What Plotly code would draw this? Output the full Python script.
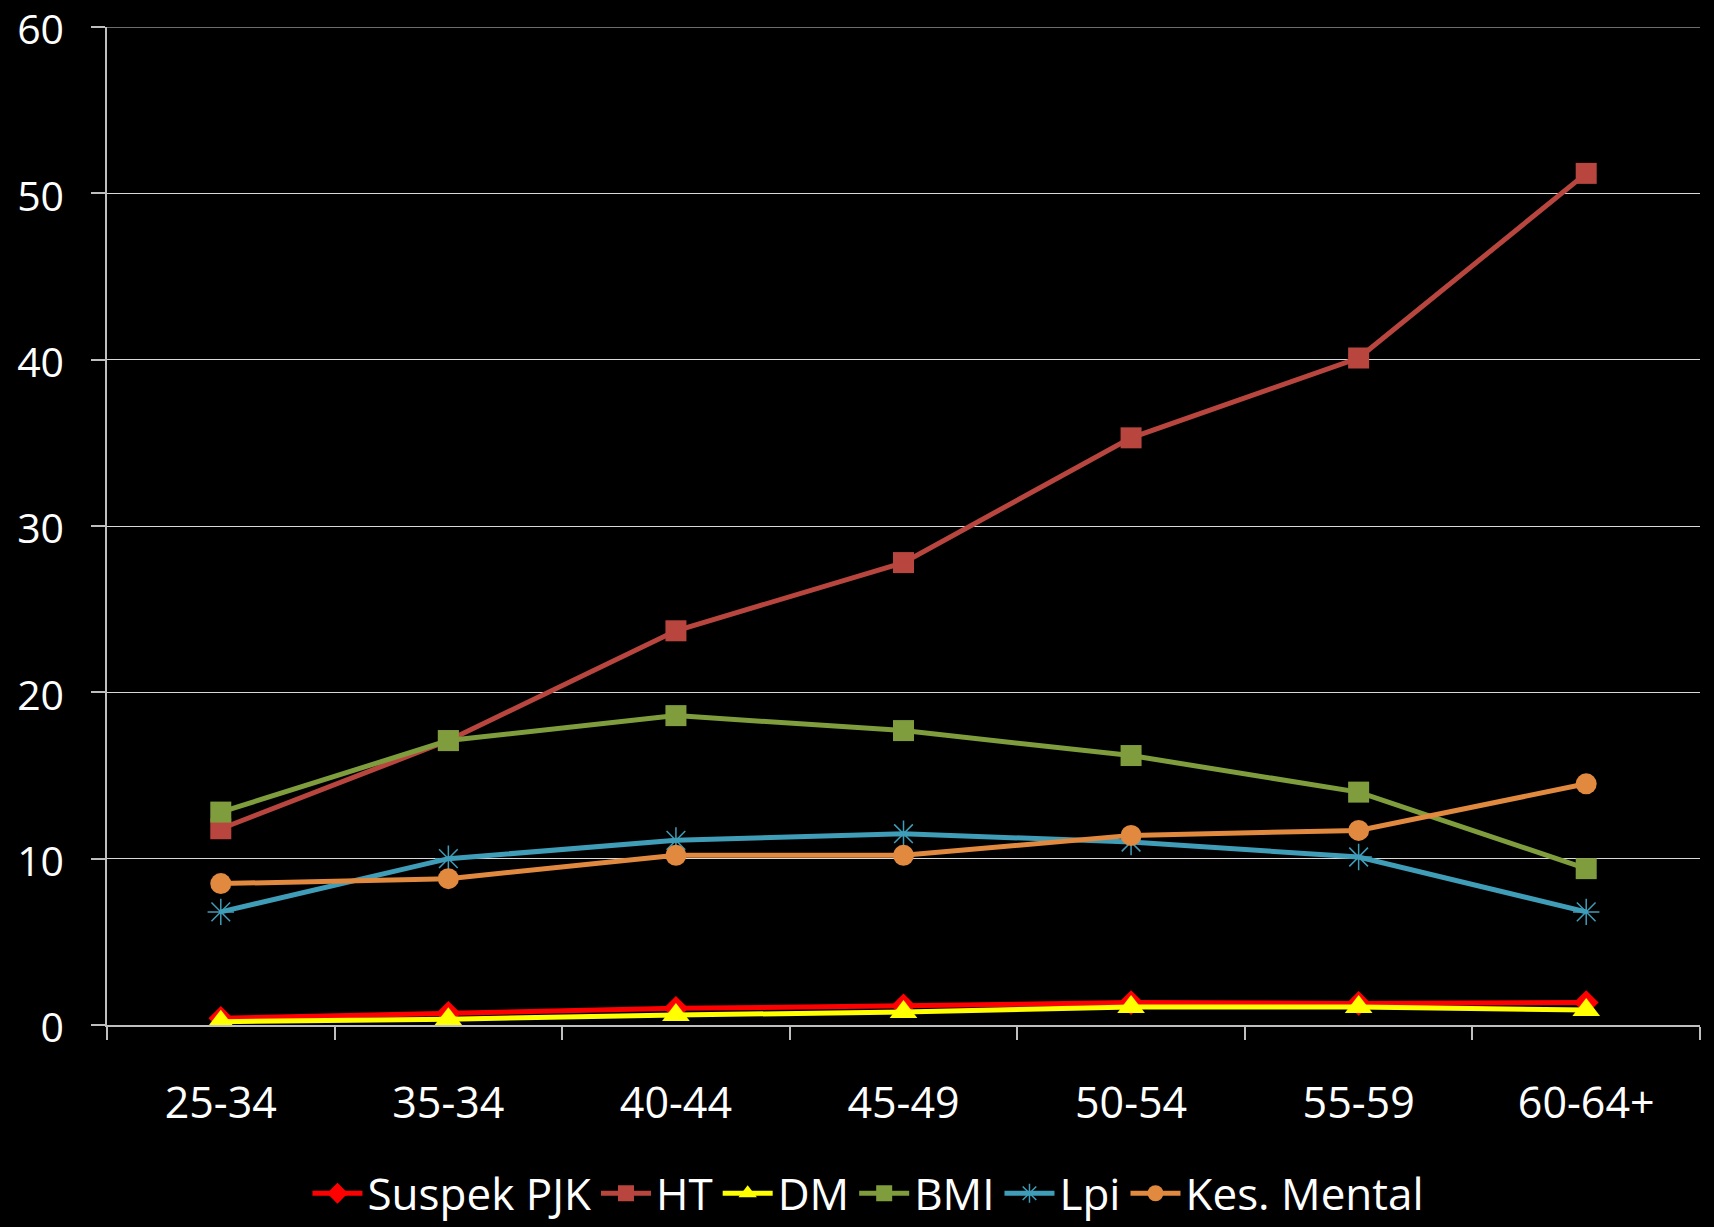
import plotly.graph_objects as go

categories = ["25-34", "35-34", "40-44", "45-49", "50-54", "55-59", "60-64+"]
suspek_pjk = [0.4, 0.7, 1.0, 1.15, 1.35, 1.3, 1.35]
ht = [11.8, 17.1, 23.7, 27.8, 35.3, 40.1, 51.2]
dm = [0.2, 0.35, 0.6, 0.78, 1.08, 1.08, 0.9]
bmi = [12.8, 17.1, 18.6, 17.7, 16.2, 14.0, 9.4]
lpi = [6.8, 10.0, 11.1, 11.5, 11.0, 10.1, 6.8]
kes_mental = [8.5, 8.8, 10.2, 10.2, 11.4, 11.7, 14.5]
y_ticks = [0, 10, 20, 30, 40, 50, 60]

FONT = "Open Sans"

fig = go.Figure()

def add(name, vals, color, symbol, msize, mline=None, mcolor=None):
    fig.add_trace(go.Scatter(
        x=categories, y=vals, name=name, mode="lines+markers",
        line=dict(color=color, width=5),
        marker=dict(symbol=symbol, size=msize, color=mcolor or color,
                    line=mline or dict(width=0)),
    ))

add("Suspek PJK", suspek_pjk, "#FF0000", "diamond", 19)
add("HT", ht, "#B8463F", "square", 21)
add("DM", dm, "#FFFF00", "triangle-up", 24)
add("BMI", bmi, "#7F9D3D", "square", 21)
add("Lpi", lpi, "#3F9DB8", "asterisk-open", 22, mline=dict(width=1.5, color="#2F8AA5"))
add("Kes. Mental", kes_mental, "#E0893F", "circle", 21)

# top gridline at 60 (plotly omits the grid line lying on the plot edge)
fig.add_shape(type="line", xref="paper", yref="y", x0=0, x1=1, y0=y_ticks[-1], y1=y_ticks[-1],
              line=dict(color="#D9D9D9", width=1.2), layer="below")

fig.update_layout(
    width=1714, height=1227,
    paper_bgcolor="black", plot_bgcolor="black",
    margin=dict(l=107, r=14, t=27, b=202, autoexpand=False),
    font=dict(family=FONT, color="white", size=42),
    showlegend=True,
    legend=dict(orientation="h", x=0.478, xanchor="center", y=-0.169, yanchor="middle",
                font=dict(size=44, color="white", family=FONT), bgcolor="rgba(0,0,0,0)",
                itemwidth=50, tracegroupgap=0),
    xaxis=dict(
        type="category", range=[-0.5, 6.5], tickson="boundaries",
        showline=True, linecolor="#BFBFBF", linewidth=1.5,
        ticks="outside", ticklen=13, tickcolor="#BFBFBF", tickwidth=1.5,
        showgrid=False, zeroline=False, automargin=False,
        tickfont=dict(size=43, color="white"), ticklabelstandoff=40,
    ),
    yaxis=dict(
        range=[0, 60], tickvals=y_ticks,
        showline=True, linecolor="#BFBFBF", linewidth=1.5,
        ticks="outside", ticklen=14, tickcolor="#BFBFBF", tickwidth=1.5,
        showgrid=True, gridcolor="#D9D9D9", gridwidth=1.2,
        zeroline=False, automargin=False, ticklabeloverflow="allow",
        tickfont=dict(size=41, color="white"), ticklabelstandoff=19,
        ticklabelshift=3,
    ),
)

fig.write_html("out.html")
